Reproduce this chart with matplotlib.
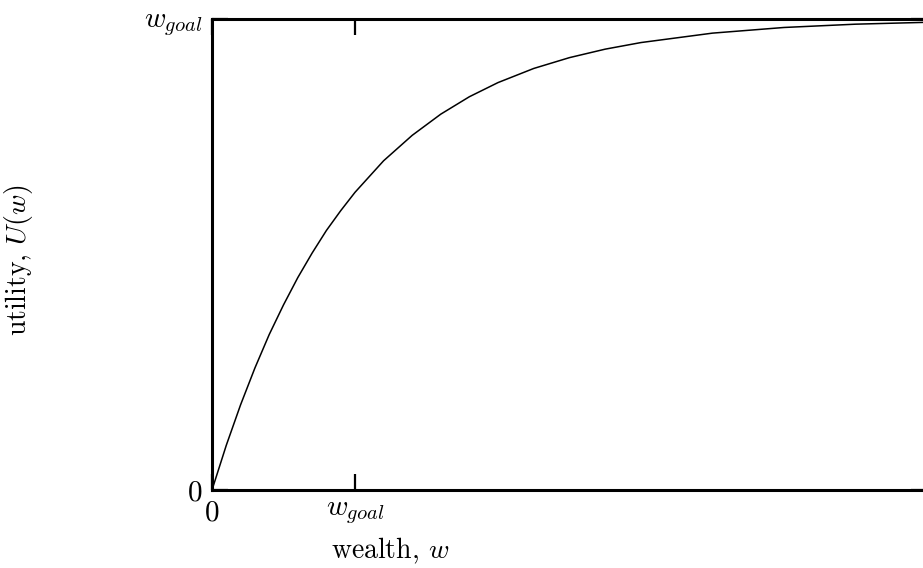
import matplotlib
matplotlib.use("Agg")
from matplotlib import pyplot as plt

# curve points (wealth in units of w_goal, utility)
wealth = [0.0, 0.1, 0.2, 0.3, 0.4, 0.5, 0.6, 0.7, 0.8, 0.9, 1.0, 1.2, 1.4,
          1.6, 1.8, 2.0, 2.25, 2.5, 2.75, 3.0, 3.5, 4.0, 4.5, 5.0]
utility = [0.0, 0.095, 0.181, 0.259, 0.330, 0.393, 0.451, 0.503, 0.551,
           0.593, 0.632, 0.699, 0.753, 0.798, 0.835, 0.865, 0.895, 0.918,
           0.936, 0.950, 0.970, 0.982, 0.989, 0.993]

x_ticks = [0, 1]
x_tick_labels = ["0", r"$w_{goal}$"]
y_ticks = [0, 1]
y_tick_labels = ["0", r"$w_{goal}$"]

plt.rcParams["font.family"] = "serif"
plt.rcParams["font.serif"] = ["cmr10"]
plt.rcParams["mathtext.fontset"] = "cm"
plt.rcParams["axes.unicode_minus"] = False

fig = plt.figure(figsize=(9.23, 5.68), dpi=100)
ax = fig.add_axes([212 / 923, 78 / 568, 715 / 923, 471 / 568])

ax.plot(wealth, utility, color="black", lw=1.1, clip_on=False)
ax.set_xlim(0, 5)
ax.set_ylim(0, 1)

for s in ax.spines.values():
    s.set_linewidth(2.2)

ax.set_xticks(x_ticks)
ax.set_xticklabels(x_tick_labels)
ax.set_yticks(y_ticks)
ax.set_yticklabels(y_tick_labels)
ax.tick_params(direction="in", length=11.5, width=1.6, labelsize=21,
               top=True, right=True, pad=7)

ax.set_xlabel(r"wealth, $w$", fontsize=20, va="center")
ax.xaxis.set_label_coords(0.249, -0.13)
ax.set_ylabel(r"utility, $U(w)$", fontsize=20, va="center")
ax.yaxis.set_label_coords(-0.271, 0.488)

plt.savefig("out.png", dpi=100)
